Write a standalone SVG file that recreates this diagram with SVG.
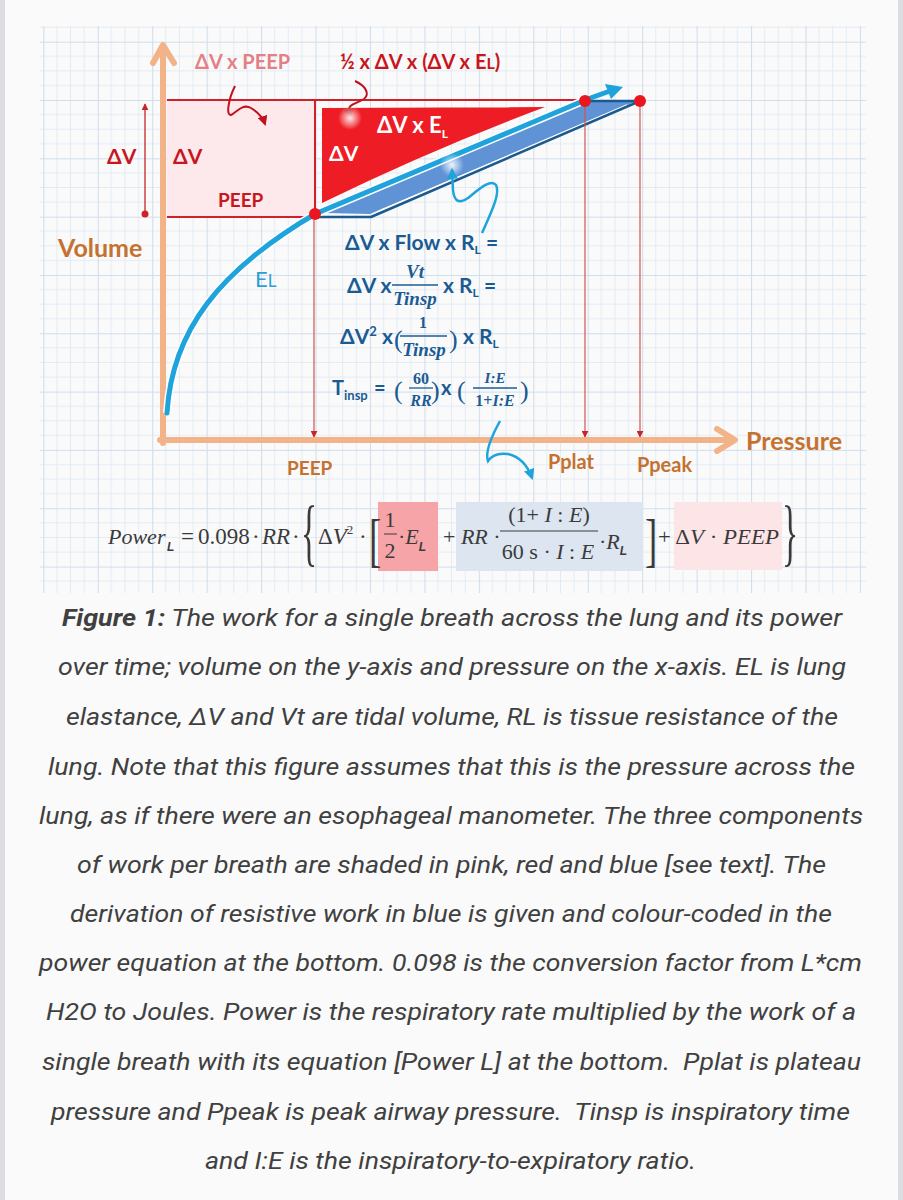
<svg xmlns="http://www.w3.org/2000/svg" width="903" height="1200" viewBox="0 0 903 1200">
<defs>
<pattern id="grid" patternUnits="userSpaceOnUse" x="43.3" y="41.7" width="54.44" height="58.32">
<g stroke="#e2ebf4" stroke-width="1">
<line x1="13.61" y1="0" x2="13.61" y2="58.32"/><line x1="27.22" y1="0" x2="27.22" y2="58.32"/><line x1="40.83" y1="0" x2="40.83" y2="58.32"/>
<line x1="0" y1="14.58" x2="54.44" y2="14.58"/><line x1="0" y1="29.16" x2="54.44" y2="29.16"/><line x1="0" y1="43.74" x2="54.44" y2="43.74"/>
</g>
<g stroke="#d0deec" stroke-width="1.2"><line x1="0.5" y1="0" x2="0.5" y2="58.32"/><line x1="0" y1="0.5" x2="54.44" y2="0.5"/></g>
</pattern>
<marker id="ah" viewBox="0 0 10 10" refX="9" refY="5" markerWidth="7" markerHeight="7" orient="auto-start-reverse" markerUnits="userSpaceOnUse"><path d="M0,0 L10,5 L0,10 z" fill="#c8242c"/></marker>
<marker id="ahr" viewBox="0 0 10 10" refX="8" refY="5" markerWidth="10" markerHeight="10" orient="auto" markerUnits="userSpaceOnUse"><path d="M0,0 L10,5 L0,10 z" fill="#c0121c"/></marker>
<marker id="ahb" viewBox="0 0 10 10" refX="8" refY="5" markerWidth="11" markerHeight="11" orient="auto" markerUnits="userSpaceOnUse"><path d="M0,0 L10,5 L0,10 z" fill="#1fa3dc"/></marker>
<radialGradient id="glow"><stop offset="0" stop-color="#fff" stop-opacity="0.9"/><stop offset="1" stop-color="#fff" stop-opacity="0"/></radialGradient>
</defs>
<style>
.sans{font-family:Lato,"Liberation Sans",sans-serif;font-weight:700}
.serif{font-family:"Liberation Serif","Times New Roman",serif}
.ital{font-style:italic}
.red{fill:#c8161d}
.pink{fill:#e57f87}
.white{fill:#ffffff}
.brown{fill:#c5712f}
.dblue{fill:#1b5b94}
.eq{fill:#3a3a3a}
.sub{font-family:"Liberation Sans",sans-serif;font-weight:700;font-style:italic;font-size:12px}
.cap{font-family:Roboto,"Liberation Sans",sans-serif;font-style:italic;font-size:24px;fill:#404040}
.thin{stroke:#d4534f;stroke-width:1.2;fill:none}
.axis{stroke:#f2b389;stroke-width:6;fill:none;stroke-linecap:round;stroke-linejoin:round}
</style>
<rect x="0" y="0" width="903" height="1200" fill="#fafafa"/>
<rect x="0" y="0" width="5" height="1200" fill="#dcdde0"/>
<rect x="898" y="0" width="5" height="1200" fill="#dcdde0"/>
<rect x="40" y="26" width="826" height="567" fill="url(#grid)"/>

<g id="pink-region">
<rect x="167" y="100" width="148" height="117" fill="#fde9eb"/>
</g>
<g id="red-region">
<path d="M322,108 L545,107 Q430,150 322,203 Z" fill="#ee1c24"/>
</g>
<g id="blue-region">
<polygon points="325,213 370,214 634,102 588,102" fill="#5f93d5"/>
<line x1="377" y1="212" x2="627" y2="105" stroke="#ffffff" stroke-width="1.5"/>
<polyline points="316,217 371,217 640,101 585,101" fill="none" stroke="#1b5a8e" stroke-width="2.5" stroke-linejoin="round"/>
</g>

<g id="connectors">
<line x1="167" y1="100" x2="585" y2="100" stroke="#d0202a" stroke-width="2"/>
<line x1="167" y1="217" x2="315" y2="217" stroke="#d0202a" stroke-width="2"/>
<line x1="315" y1="100" x2="315" y2="214" stroke="#d0202a" stroke-width="2"/>
<line x1="145" y1="214" x2="145" y2="104" stroke="#c8242c" stroke-width="1.3" marker-end="url(#ah)"/>
<line x1="314" y1="220" x2="314" y2="437" class="thin" marker-end="url(#ah)"/>
<line x1="585" y1="106" x2="585" y2="437" class="thin" marker-end="url(#ah)"/>
<line x1="640" y1="106" x2="640" y2="437" class="thin" marker-end="url(#ah)"/>
<path class="axis" d="M163,443 L163,46 M153,63 L163,45 L174,63"/>
<path class="axis" d="M160,440 L733,440 M717,429 L735,440 L717,451"/>
<path d="M167,413 C172,330 220,270 315,214 L583,101" fill="none" stroke="#ffffff" stroke-width="8"/>
<path d="M167,413 C172,330 220,270 315,214 L583,101" fill="none" stroke="#1fa3dc" stroke-width="5" stroke-linecap="round"/>
<line x1="585" y1="100" x2="610" y2="91" stroke="#1fa3dc" stroke-width="5"/>
<path d="M605,84 L623,87 L611,99 Z" fill="#1fa3dc"/>
<path d="M235,86 C228,100 226,116 231,115 C236,113 242,103 251,108 C259,113 263,118 265,124" fill="none" stroke="#c0121c" stroke-width="2" marker-end="url(#ahr)"/>
<path d="M355,81 C366,86 370,94 364,99 C356,104 348,104 349,111 L350,117" fill="none" stroke="#c0121c" stroke-width="2" marker-end="url(#ahr)"/>
<circle cx="350" cy="118" r="12" fill="url(#glow)"/>
<circle cx="452" cy="165" r="12" fill="url(#glow)"/>
<path d="M482,233 C490,215 501,193 496,185 C491,178 478,190 468,198 C458,205 454,200 453,190 L452,170" fill="none" stroke="#1fa3dc" stroke-width="2.5" marker-end="url(#ahb)"/>
<path d="M500,421 Q484,450 488,461 Q494,452 508,454 Q525,458 532,478" fill="none" stroke="#1fa3dc" stroke-width="2.5" marker-end="url(#ahb)"/>
</g>

<g id="dots">
<circle cx="145" cy="214" r="3.5" fill="#d0202a"/>
<circle cx="315" cy="214" r="6" fill="#e8161f"/>
<circle cx="585" cy="101" r="6" fill="#e8161f"/>
<circle cx="640" cy="101" r="6" fill="#e8161f"/>
</g>

<g id="labels">
<text class="sans pink" x="195" y="69" font-size="20">ΔV x PEEP</text>
<text class="sans red" x="340" y="69" font-size="20">½ x ΔV x (ΔV x E<tspan font-size="16">L</tspan>)</text>
<text class="sans red" x="107" y="164" font-size="21">ΔV</text>
<text class="sans red" x="173" y="164" font-size="21">ΔV</text>
<text class="sans red" x="218" y="207" font-size="19">PEEP</text>
<text class="sans white" x="377" y="133" font-size="22">ΔV x E<tspan font-size="12" dy="5">L</tspan></text>
<text class="sans white" x="329" y="161" font-size="21">ΔV</text>
<text class="sans brown" x="58" y="257" font-size="25">Volume</text>
<text x="255" y="287" font-family="Lato,'Liberation Sans',sans-serif" font-size="22" fill="#2b9fd4">E<tspan font-size="17">L</tspan></text>
<text class="sans brown" x="746" y="450" font-size="25">Pressure</text>
<text class="sans brown" x="287" y="475" font-size="19">PEEP</text>
<text class="sans brown" x="548" y="469" font-size="20">Pplat</text>
<text class="sans brown" x="637" y="472" font-size="20">Ppeak</text>
</g>

<g id="derivation" class="dblue">
<text class="sans" x="345" y="250" font-size="21">ΔV x Flow x R<tspan font-size="12" dy="4">L</tspan><tspan dy="-4"> =</tspan></text>
<text class="sans" x="347" y="293" font-size="21">ΔV x</text>
<text class="serif ital" x="415" y="278" font-size="19" font-weight="700" text-anchor="middle">Vt</text>
<line x1="392" y1="285" x2="438" y2="285" stroke="#1b5b94" stroke-width="1.3"/>
<text class="serif ital" x="415" y="305" font-size="19" font-weight="700" text-anchor="middle">Tinsp</text>
<text class="sans" x="443" y="293" font-size="21">x R<tspan font-size="12" dy="4">L</tspan><tspan dy="-4"> =</tspan></text>
<text class="sans" x="340" y="344" font-size="21">ΔV<tspan font-size="13" dy="-8">2</tspan><tspan dy="8"> x</tspan></text>
<text class="serif" x="394" y="348" font-size="26">(</text>
<text class="serif" x="423" y="328" font-size="16" font-weight="700" text-anchor="middle">1</text>
<line x1="400" y1="336" x2="447" y2="336" stroke="#1b5b94" stroke-width="1.3"/>
<text class="serif ital" x="424" y="356" font-size="19" font-weight="700" text-anchor="middle">Tinsp</text>
<text class="serif" x="449" y="348" font-size="26">)</text>
<text class="sans" x="463" y="344" font-size="21">x R<tspan font-size="12" dy="4">L</tspan></text>
<text class="sans" x="332" y="395" font-size="20">T<tspan font-size="13" dy="5">insp</tspan></text>
<text class="sans" x="374" y="395" font-size="20">=</text>
<text class="serif" x="394" y="399" font-size="26">(</text>
<text class="serif" x="421" y="384" font-size="16" font-weight="700" text-anchor="middle">60</text>
<line x1="409" y1="388" x2="433" y2="388" stroke="#1b5b94" stroke-width="1.3"/>
<text class="serif ital" x="421" y="406" font-size="16" font-weight="700" text-anchor="middle">RR</text>
<text class="serif" x="431" y="399" font-size="26">)</text>
<text class="sans" x="441" y="395" font-size="20">x</text>
<text class="serif" x="457" y="399" font-size="26">(</text>
<text class="serif ital" x="495" y="383" font-size="15" font-weight="700" text-anchor="middle">I:E</text>
<line x1="473" y1="388" x2="517" y2="388" stroke="#1b5b94" stroke-width="1.3"/>
<text class="serif" x="495" y="406" font-size="16" font-weight="700" text-anchor="middle">1+<tspan font-style="italic">I:E</tspan></text>
<text class="serif" x="520" y="399" font-size="26">)</text>
</g>

<g id="power-equation">
<rect x="378" y="502" width="60" height="69" fill="#f7a4a8"/>
<rect x="456" y="502" width="187" height="69" fill="#dce5f0"/>
<rect x="674" y="502" width="108" height="68" fill="#fde4e6"/>
<text class="serif eq ital" x="108" y="544" font-size="22">Power</text>
<text class="sub" x="167" y="551" fill="#3a3a3a">L</text>
<text class="serif eq" x="181" y="544" font-size="23">=</text>
<text class="serif eq" x="198" y="544" font-size="23">0.098</text>
<text class="serif eq" x="252" y="544" font-size="23">·</text>
<text class="serif eq ital" x="262" y="544" font-size="23">RR</text>
<text class="serif eq" x="292" y="544" font-size="23">·</text>
<text class="serif eq" x="301" y="557" font-size="48" transform="translate(301,557) scale(0.7,1.56) translate(-301,-557)">{</text>
<text class="serif eq" x="318" y="544" font-size="23">Δ<tspan font-style="italic">V</tspan><tspan font-size="13" dy="-10">2</tspan></text>
<text class="serif eq" x="359" y="544" font-size="23">·</text>
<text class="serif eq" x="369" y="560" font-size="46" transform="translate(369,560) scale(0.8,1.3) translate(-369,-560)">[</text>
<text class="serif eq" x="390" y="527" font-size="22" text-anchor="middle">1</text>
<line x1="384" y1="534" x2="397" y2="534" stroke="#3a3a3a" stroke-width="1"/>
<text class="serif eq" x="390" y="558" font-size="22" text-anchor="middle">2</text>
<text class="serif eq" x="398" y="544" font-size="22">·<tspan font-style="italic">E</tspan><tspan class="sub" dy="7">L</tspan></text>
<text class="serif eq" x="443" y="544" font-size="22">+ <tspan font-style="italic">RR</tspan> ·</text>
<text class="serif eq" x="549" y="522" font-size="22" text-anchor="middle">(1+ <tspan font-style="italic">I</tspan> : <tspan font-style="italic">E</tspan>)</text>
<line x1="500" y1="531" x2="598" y2="531" stroke="#3a3a3a" stroke-width="1"/>
<text class="serif eq" x="548" y="559" font-size="22" text-anchor="middle">60 s · <tspan font-style="italic">I</tspan> : <tspan font-style="italic">E</tspan></text>
<text class="serif eq" x="599" y="549" font-size="22">·<tspan font-style="italic">R</tspan><tspan class="sub" dy="6">L</tspan></text>
<text class="serif eq" x="645" y="560" font-size="46" transform="translate(645,560) scale(0.8,1.3) translate(-645,-560)">]</text>
<text class="serif eq" x="658" y="544" font-size="22" textLength="121" lengthAdjust="spacingAndGlyphs">+ Δ<tspan font-style="italic">V</tspan> · <tspan font-style="italic">PEEP</tspan></text>
<text class="serif eq" x="782" y="557" font-size="48" transform="translate(782,557) scale(0.7,1.56) translate(-782,-557)">}</text>
</g>

<g id="caption">
<text class="cap" x="62" y="626" textLength="780" lengthAdjust="spacingAndGlyphs"><tspan font-weight="700">Figure 1:</tspan> The work for a single breath across the lung and its power</text>
<text class="cap" x="58" y="675" textLength="788" lengthAdjust="spacingAndGlyphs">over time; volume on the y-axis and pressure on the x-axis. EL is lung</text>
<text class="cap" x="66" y="725" textLength="772" lengthAdjust="spacingAndGlyphs">elastance, ΔV and Vt are tidal volume, RL is tissue resistance of the</text>
<text class="cap" x="48" y="775" textLength="807" lengthAdjust="spacingAndGlyphs">lung. Note that this figure assumes that this is the pressure across the</text>
<text class="cap" x="39" y="824" textLength="824" lengthAdjust="spacingAndGlyphs">lung, as if there were an esophageal manometer. The three components</text>
<text class="cap" x="77" y="873" textLength="749" lengthAdjust="spacingAndGlyphs">of work per breath are shaded in pink, red and blue [see text]. The</text>
<text class="cap" x="70" y="922" textLength="762" lengthAdjust="spacingAndGlyphs">derivation of resistive work in blue is given and colour-coded in the</text>
<text class="cap" x="39" y="971" textLength="823" lengthAdjust="spacingAndGlyphs">power equation at the bottom. 0.098 is the conversion factor from L*cm</text>
<text class="cap" x="46" y="1020" textLength="810" lengthAdjust="spacingAndGlyphs">H2O to Joules. Power is the respiratory rate multiplied by the work of a</text>
<text class="cap" x="42" y="1070" textLength="819" lengthAdjust="spacingAndGlyphs" xml:space="preserve">single breath with its equation [Power L] at the bottom.  Pplat is plateau</text>
<text class="cap" x="51" y="1120" textLength="799" lengthAdjust="spacingAndGlyphs" xml:space="preserve">pressure and Ppeak is peak airway pressure.  Tinsp is inspiratory time</text>
<text class="cap" x="205" y="1169" textLength="491" lengthAdjust="spacingAndGlyphs">and I:E is the inspiratory-to-expiratory ratio.</text>
</g>
</svg>
